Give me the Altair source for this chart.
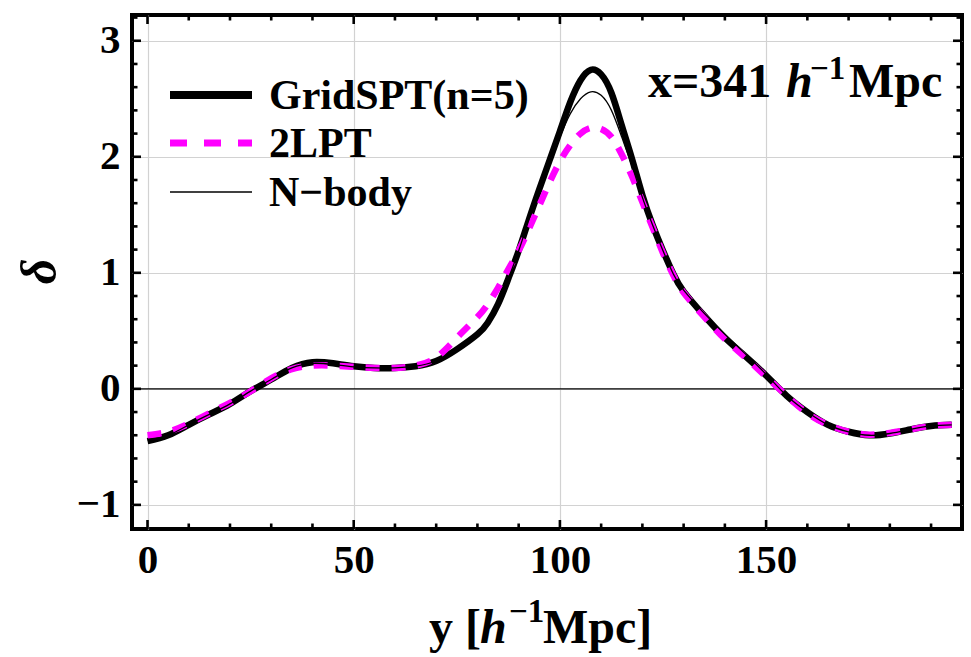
import altair as alt
import pandas as pd

# ---------------- data ----------------
y_pos = [0, 5, 10, 15, 20, 25, 30, 35, 40, 45, 50, 55, 60, 65, 70, 75, 80,
         82.5, 85, 87.5, 90, 92.5, 95, 97.5, 100, 102.5, 105, 107.5, 110, 112.5,
         115, 117.5, 120, 122.5, 125, 127.5, 130,
         135, 140, 145, 150, 155, 160, 165, 170, 175, 180, 185, 190, 195]

gridspt = [-0.45, -0.40, -0.31, -0.22, -0.13, -0.02, 0.08, 0.18, 0.23, 0.22, 0.195, 0.18, 0.18, 0.195, 0.24, 0.34, 0.47,
           0.57, 0.73, 0.95, 1.19, 1.46, 1.72, 1.97, 2.22, 2.47, 2.66, 2.75, 2.71, 2.55,
           2.27, 1.98, 1.67, 1.41, 1.19, 0.99, 0.84,
           0.63, 0.44, 0.28, 0.115, -0.06, -0.20, -0.31, -0.37, -0.40, -0.385, -0.35, -0.32, -0.31]

lpt2 = [-0.40, -0.37, -0.30, -0.21, -0.12, -0.02, 0.09, 0.17, 0.20, 0.20, 0.19, 0.18, 0.18, 0.20, 0.27, 0.44, 0.62,
        0.73, 0.87, 1.03, 1.19, 1.38, 1.58, 1.78, 1.96, 2.10, 2.20, 2.25, 2.24, 2.17,
        2.02, 1.83, 1.61, 1.39, 1.17, 0.98, 0.83,
        0.62, 0.43, 0.27, 0.105, -0.06, -0.21, -0.31, -0.37, -0.395, -0.38, -0.35, -0.32, -0.31]

nbody = [-0.44, -0.40, -0.31, -0.22, -0.13, -0.02, 0.08, 0.18, 0.22, 0.21, 0.19, 0.18, 0.18, 0.195, 0.24, 0.34, 0.47,
         0.57, 0.73, 0.95, 1.19, 1.46, 1.71, 1.94, 2.17, 2.37, 2.50, 2.56, 2.53, 2.40,
         2.17, 1.92, 1.65, 1.41, 1.19, 0.99, 0.85,
         0.65, 0.47, 0.30, 0.125, -0.06, -0.20, -0.31, -0.37, -0.40, -0.385, -0.35, -0.32, -0.31]

series_names = ["GridSPT(n=5)", "2LPT", "N\u2212body"]

x_major = [0, 50, 100, 150]
x_minor = [10, 20, 30, 40, 60, 70, 80, 90, 110, 120, 130, 140, 160, 170, 180, 190]
y_major = [-1, 0, 1, 2, 3]
y_minor = [-0.8, -0.6, -0.4, -0.2, 0.2, 0.4, 0.6, 0.8, 1.2, 1.4, 1.6, 1.8,
           2.2, 2.4, 2.6, 2.8, 3.2]

# ---------------- layout / style ----------------
W, H = 830, 514
FONT = "Liberation Serif"
MAGENTA = "#ff00ff"

xs = alt.Scale(domain=[-3.76, 197.5], nice=False, zero=False)
ys = alt.Scale(domain=[-1.208, 3.222], nice=False, zero=False)

x_axis = alt.Axis(values=x_major, grid=True, gridColor="#d2d2d2", gridWidth=1.2,
                  ticks=False, domain=False, labelFont=FONT, labelFontWeight="bold",
                  labelFontSize=41, labelColor="black", labelPadding=11,
                  labelFlush=False, title=None, format="d")
y_axis = alt.Axis(values=y_major, grid=True, gridColor="#d2d2d2", gridWidth=1.2,
                  ticks=False, domain=False, labelFont=FONT, labelFontWeight="bold",
                  labelFontSize=41, labelColor="black", labelPadding=12,
                  labelFlush=False, format="d",
                  title="\u03b4", titleFont=FONT, titleFontWeight="bold",
                  titleFontStyle="italic", titleFontSize=50, titleColor="black",
                  titleAngle=270, titleX=-92, titleY=256, titleAlign="center",
                  titleBaseline="middle")


def X(field):
    return alt.X(field, scale=xs, axis=x_axis)


def Y(field):
    return alt.Y(field, scale=ys, axis=y_axis)


def curve(vals, name, color, width, dash=None):
    df = pd.DataFrame({"pos": y_pos, "delta": vals, "series": name})
    kw = dict(color=color, strokeWidth=width, interpolate="natural")
    if dash:
        kw["strokeDash"] = dash
    return alt.Chart(df).mark_line(**kw).encode(x=X("pos:Q"), y=Y("delta:Q"))


def tick_layer(vals, side, L):
    df = pd.DataFrame({"t": vals, "side": side})
    m = alt.Chart(df).mark_rule(color="black", strokeWidth=2.6)
    if side == "bottom":
        return m.encode(x=X("t:Q"), y=alt.value(H), y2=alt.value(H - L))
    if side == "top":
        return m.encode(x=X("t:Q"), y=alt.value(0.5), y2=alt.value(L))
    if side == "left":
        return m.encode(y=Y("t:Q"), x=alt.value(0.5), x2=alt.value(L))
    return m.encode(y=Y("t:Q"), x=alt.value(W), x2=alt.value(W - L))


def txt(s, x, y, size, italic=False, baseline="alphabetic"):
    return alt.Chart(pd.DataFrame({"s": [s]})).mark_text(
        align="left", baseline=baseline, font=FONT, fontSize=size,
        fontWeight="bold", fontStyle="italic" if italic else "normal",
        color="black").encode(x=alt.value(x), y=alt.value(y), text="s:N")


zero_line = alt.Chart(pd.DataFrame({"z": [0]})).mark_rule(
    color="black", strokeWidth=1.3).encode(
    y=Y("z:Q"), x=alt.value(0), x2=alt.value(W))

layers = [zero_line,
          curve(gridspt, series_names[0], "black", 6.5),
          curve(lpt2, series_names[1], MAGENTA, 6.5, dash=[14, 12]),
          curve(nbody, series_names[2], "black", 1.3)]
for side in ["bottom", "top"]:
    layers.append(tick_layer(x_major, side, 9))
    layers.append(tick_layer(x_minor, side, 5.5))
for side in ["left", "right"]:
    layers.append(tick_layer(y_major, side, 9))
    layers.append(tick_layer(y_minor, side, 5.5))

# legend (manual)
leg_y = [80, 128, 177]
leg_styles = [dict(color="black", strokeWidth=8),
              dict(color=MAGENTA, strokeWidth=7, strokeDash=[17, 17]),
              dict(color="black", strokeWidth=1.5)]
for i, name in enumerate(series_names):
    d = pd.DataFrame({"s": [name]})
    layers.append(alt.Chart(d).mark_rule(**leg_styles[i]).encode(
        x=alt.value(38), x2=alt.value(120), y=alt.value(leg_y[i])))
    layers.append(alt.Chart(d).mark_text(
        align="left", baseline="middle", font=FONT, fontSize=42, fontWeight="bold",
        color="black").encode(x=alt.value(137), y=alt.value(leg_y[i] + 1), text="s:N"))

# annotation x=341 h^-1 Mpc
layers += [txt("x=341", 516, 82, 48), txt("h", 654, 82, 48, italic=True),
           txt("\u22121", 678, 64, 33), txt("Mpc", 717, 82, 48)]

# x-axis title y [h^-1 Mpc]
layers += [txt("y [", 297, 628, 48), txt("h", 348, 628, 48, italic=True),
           txt("\u22121", 377, 607, 33), txt("Mpc]", 411, 628, 48)]

chart = alt.layer(*layers).properties(
    width=W, height=H,
    autosize=alt.AutoSizeParams(type="none"),
    padding={"left": 132, "top": 15, "right": 9, "bottom": 128},
    background="white",
).configure_view(stroke="black", strokeWidth=4)

chart.save("out.html", embed_options={"renderer": "svg", "actions": False})
